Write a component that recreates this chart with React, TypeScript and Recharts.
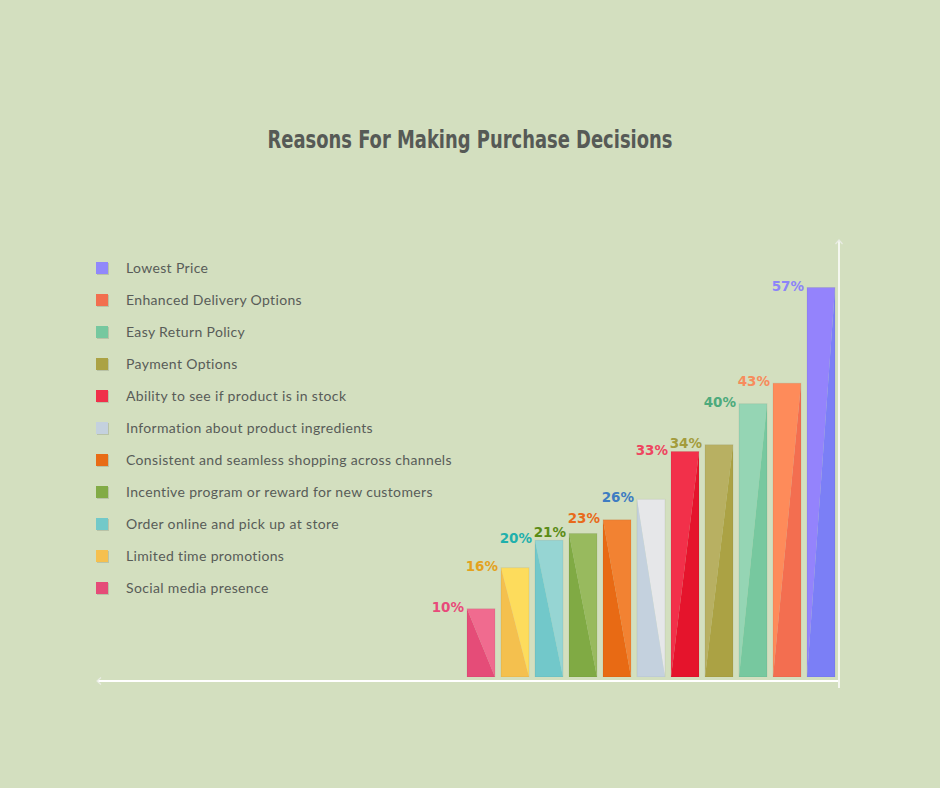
import React from "react";
import { BarChart, Bar, XAxis, YAxis, LabelList } from "recharts";

// left-to-right order of the bars
const categories = [
  "Social media presence",
  "Limited time promotions",
  "Order online and pick up at store",
  "Incentive program or reward for new customers",
  "Consistent and seamless shopping across channels",
  "Information about product ingredients",
  "Ability to see if product is in stock",
  "Payment Options",
  "Easy Return Policy",
  "Enhanced Delivery Options",
  "Lowest Price",
];
const values = [10, 16, 20, 21, 23, 26, 33, 34, 40, 43, 57];

// styles, same order as categories
const lightColors = ["#f06b8f", "#fddc5c", "#96d5d3", "#98ba5e", "#f28232", "#e6e7e9", "#f2304a", "#b8b062", "#95d5b4", "#fe8b5a", "#9483fc"];
const darkColors = ["#e54c78", "#f4c04e", "#72c8ca", "#80aa44", "#e86a14", "#c4d1de", "#e5142c", "#aba244", "#77c89f", "#f36e50", "#7b7ff6"];
const labelColors = ["#e84a7a", "#e3a21e", "#1fb0ac", "#5b8c16", "#e86a1a", "#3d7cc2", "#ee4560", "#a39c3c", "#4daa7c", "#f78c5c", "#8c84f8"];
const swatchColors = ["#e54c78", "#f5c04f", "#72c9c9", "#82ab46", "#e86c16", "#c4d1de", "#f0304a", "#aba244", "#76c89f", "#f26f4f", "#9188fb"];

const chartData = categories.map((name, i) => ({ name, value: values[i] }));

const BG = "#d3dfbf";

const SplitBar = (props: any) => {
  const { x, y, width: w, height: h, index } = props;
  if (!h || h <= 0) return null;
  const light = lightColors[index];
  const dark = darkColors[index];
  if (index < 6) {
    // dark lower-left triangle, light upper-right
    return (
      <g>
        <polygon points={`${x},${y} ${x + w},${y} ${x + w},${y + h}`} fill={light} />
        <polygon points={`${x},${y} ${x + w},${y + h} ${x},${y + h}`} fill={dark} />
        <rect x={x} y={y} width={w} height={h} fill="none" stroke="rgba(0,0,0,0.06)" />
      </g>
    );
  }
  // light upper-left triangle, dark lower-right
  return (
    <g>
      <polygon points={`${x},${y} ${x + w},${y} ${x},${y + h}`} fill={light} />
      <polygon points={`${x + w},${y} ${x + w},${y + h} ${x},${y + h}`} fill={dark} />
      <rect x={x} y={y} width={w} height={h} fill="none" stroke="rgba(0,0,0,0.06)" />
    </g>
  );
};

const ValueLabel = (props: any) => {
  const { x, y, index, value } = props;
  return (
    <text
      x={x - 3}
      y={y + 3}
      textAnchor="end"
      fill={labelColors[index]}
      fontFamily="'DejaVu Sans', sans-serif"
      fontWeight="bold"
      fontSize={13.5}
    >
      {value}%
    </text>
  );
};

export default function App() {
  const legendItems = categories.map((c, i) => ({ name: c, color: swatchColors[i] })).reverse();

  return (
    <div style={{ position: "absolute", left: 0, top: 0, width: 940, height: 788, background: BG, overflow: "hidden" }}>
      {/* Title */}
      <div
        style={{
          position: "absolute",
          top: 125,
          left: 0,
          width: 940,
          textAlign: "center",
        }}
      >
        <span
          style={{
            display: "inline-block",
            transform: "scaleX(0.83)",
            fontFamily: "'DejaVu Sans Condensed', 'DejaVu Sans', sans-serif",
            fontWeight: "bold",
            fontSize: 24,
            lineHeight: "30px",
            color: "#565a56",
            whiteSpace: "nowrap",
          }}
        >
          Reasons For Making Purchase Decisions
        </span>
      </div>

      {/* Legend */}
      {legendItems.map((item, i) => (
        <div key={item.name}>
          <div
            style={{
              position: "absolute",
              left: 96,
              top: 262 + i * 32,
              width: 12,
              height: 12,
              background: item.color,
              boxShadow: "1px 1px 0 rgba(0,0,0,0.12)",
            }}
          />
          <div
            style={{
              position: "absolute",
              left: 126,
              top: 259 + i * 32,
              fontFamily: "Lato, sans-serif",
              fontSize: 14,
              letterSpacing: 0.35,
              lineHeight: "18px",
              color: "#585c58",
              whiteSpace: "nowrap",
            }}
          >
            {item.name}
          </div>
        </div>
      ))}

      {/* Chart */}
      <div style={{ position: "absolute", left: 413.5, top: 267 }}>
        <BarChart width={424} height={410} data={chartData} margin={{ top: 0, right: 0, left: 50, bottom: 0 }}>
          <XAxis dataKey="name" hide />
          <YAxis hide domain={[0, 60]} />
          <Bar dataKey="value" barSize={28} shape={SplitBar} isAnimationActive={false}>
            <LabelList dataKey="value" content={ValueLabel} />
          </Bar>
        </BarChart>
      </div>

      {/* Axis lines */}
      <svg width={940} height={788} style={{ position: "absolute", left: 0, top: 0, pointerEvents: "none" }}>
        <line x1={97} y1={681} x2={838} y2={681} stroke="#ffffff" strokeWidth={2} />
        <line x1={839} y1={240} x2={839} y2={688} stroke="#ffffff" strokeWidth={1.5} />
        <polyline points="101,677.5 97,681 101,684.5" fill="none" stroke="#e9ece4" strokeWidth={1.2} />
        <polyline points="835.5,244 839,240 842.5,244" fill="none" stroke="#e9ece4" strokeWidth={1.2} />
      </svg>
    </div>
  );
}
